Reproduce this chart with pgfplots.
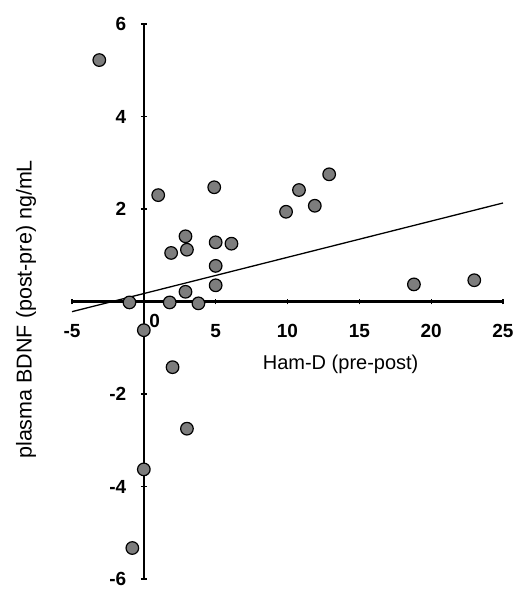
\documentclass[border=0pt]{standalone}
\usepackage{pgfplots}
\pgfplotsset{compat=1.18}
\usepackage{fontspec}
\setmainfont{Liberation Sans}
\usetikzlibrary{calc}
\definecolor{dotgray}{RGB}{125,125,125}

\begin{document}
\begin{tikzpicture}
\begin{axis}[
    scale only axis,
    width=431pt, height=555pt,
    xmin=-5, xmax=25, ymin=-6, ymax=6,
    axis lines=middle,
    axis line style={line width=2.6pt, -},
    xtick={-5,5,10,15,20,25},
    ytick={-6,-4,-2,2,4,6},
    tick style={black, line width=1.2pt},
    major tick length=6pt,
    tick align=center,
    /pgf/number format/assume math mode=true,
    ticklabel style={font=\fontsize{19}{19}\selectfont\bfseries},
    xticklabel style={anchor=north, yshift=-16pt},
    yticklabel style={anchor=east, xshift=-11pt},
    clip=false,
]
\coordinate (sw) at (axis cs:-5,-6);
% heavier vertical axis line
\draw[line width=2.6pt] (axis cs:0,-6) -- (axis cs:0,6);

% regression line
\addplot[black, line width=1.3pt] coordinates {(-5,-0.22) (25,2.13)};

% data points
\addplot[only marks, mark=*, mark size=6.3pt,
    mark options={fill=dotgray, draw=black, line width=1.2pt}] coordinates {
    (-3.1,5.22) (-1.0,-0.02) (0,-0.62) (-0.8,-5.33) (0,-3.63)
    (1.0,2.30) (1.9,1.05) (2.9,1.41) (3.0,1.12) (2.9,0.21)
    (1.8,-0.02) (3.8,-0.04) (2.0,-1.42) (3.0,-2.75) (4.9,2.47)
    (5.0,1.28) (6.1,1.25) (5.0,0.77) (5.0,0.35) (9.9,1.94)
    (10.8,2.41) (11.9,2.07) (12.9,2.75) (18.8,0.37) (23.0,0.46)
};

\node[font=\fontsize{19}{19}\selectfont\bfseries] at (axis cs:0.75,-0.42) {0};
\node[font=\fontsize{20}{20}\selectfont] at (axis cs:13.7,-1.36) {Ham-D (pre-post)};
\node[rotate=90, font=\fontsize{21.5}{21.5}\selectfont] at (axis cs:-8.2,-0.17) {plasma BDNF (post-pre) ng/mL};
\end{axis}
\pgfresetboundingbox
\path ($(sw)+(-72pt,-10pt)$) rectangle ($(sw)+(444pt,579pt)$);
\end{tikzpicture}
\end{document}
